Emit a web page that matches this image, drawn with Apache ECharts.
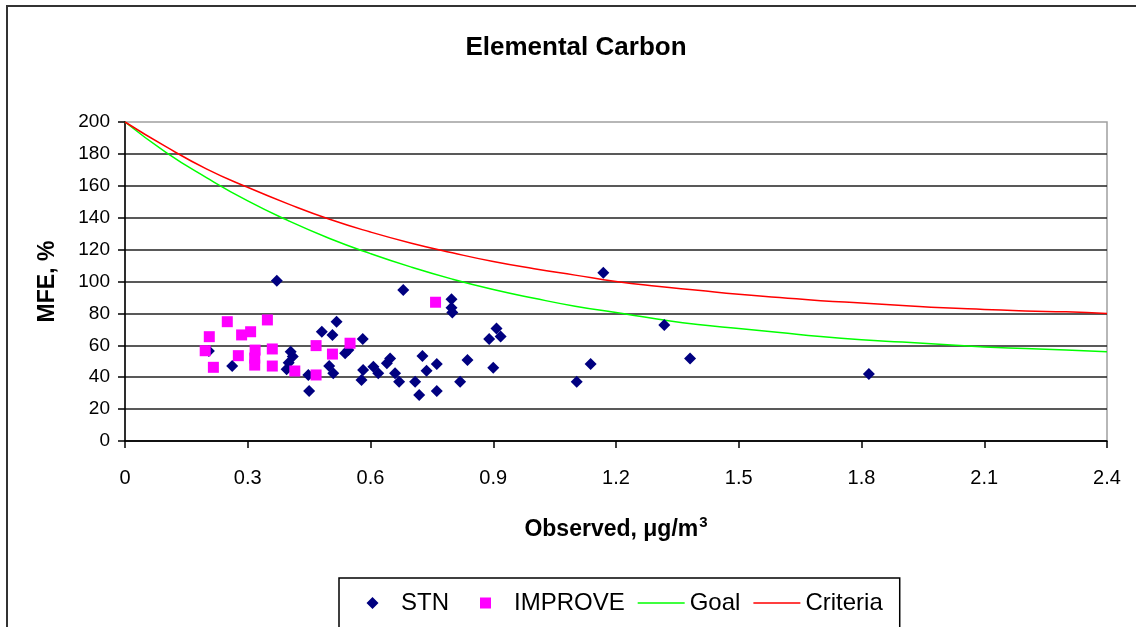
<!DOCTYPE html>
<html>
<head>
<meta charset="utf-8">
<script src="https://cdn.jsdelivr.net/npm/echarts@6/dist/echarts.min.js"></script>
<style>
html,body{margin:0;padding:0;background:#fff;}
#chart{width:1136px;height:627px;}
</style>
</head>
<body>
<div id="chart"></div>
<script>
// ---- data ----
var stnX = [0.371,0.262,0.205,0.405,0.41,0.40,0.395,0.448,0.45,0.481,0.517,0.507,0.538,0.546,0.499,0.509,0.581,0.582,0.578,0.607,0.619,0.64,0.648,0.66,0.67,0.68,0.798,0.798,0.80,0.908,0.89,0.918,0.727,0.737,0.762,0.709,0.719,0.762,0.837,0.819,0.90,1.104,1.169,1.318,1.381,1.138,1.818];
var stnY = [100.5,47.0,56.5,56,53,49,45,41.4,31.3,68.5,74.8,66.5,55,57,47,42.4,64,44.5,38.2,46.6,42.4,48.7,51.8,42.4,37.2,94.7,88.8,83.5,80.5,70.6,64,65.5,53.3,44,48.3,37.2,28.8,31.3,50.8,37.2,46,37.2,105.5,72.7,51.8,48.3,42];
var improveX = [0.196,0.206,0.216,0.25,0.285,0.307,0.277,0.318,0.317,0.317,0.348,0.36,0.36,0.415,0.467,0.467,0.507,0.55,0.759];
var improveY = [56.6,65.4,46.2,74.8,66.5,68.5,53.5,57,52,47.6,75.9,57.7,47,43.9,59.8,41.4,54.5,61.3,87];
var curveX = [0,0.1,0.2,0.3,0.4,0.5,0.6,0.7,0.8,0.9,1.0,1.1,1.2,1.3,1.4,1.5,1.6,1.7,1.8,1.9,2.0,2.1,2.2,2.3,2.4];
var goalY = [200,181,165,150.5,138,127,117.5,109,101.5,95,89.5,84.5,80.5,76.5,73,70.5,68,65.5,63.5,62,60.5,59,58,57,56];
var criteriaY = [200,184.5,170.5,159,148.5,139,131,124,118,112.5,108,104,100,97,94.5,92,90,88,86.5,85,83.5,82.5,81.5,81,80];
var xTickLabels = ['0','0.3','0.6','0.9','1.2','1.5','1.8','2.1','2.4'];
var yTickLabels = ['0','20','40','60','80','100','120','140','160','180','200'];
var seriesNames = ['STN','IMPROVE','Goal','Criteria'];
var titleText = 'Elemental Carbon';

function zip(a, b){ var r=[]; for(var i=0;i<a.length;i++) r.push([a[i], b[i]]); return r; }

var FONT = "'Liberation Sans', Arial, sans-serif";
// legend icons: padded to the full 47x12 item box with tiny corner anchors
var CORNERS = ' M0,0 L0.01,0 L0,0.01 Z M47,12 L46.99,12 L47,11.99 Z';
var LINE_ICON = 'path://M0,5.25 L47,5.25 L47,6.75 L0,6.75 Z' + CORNERS;
var DIAMOND_ICON = 'path://M23.5,0 L29.5,6 L23.5,12 L17.5,6 Z' + CORNERS;
var SQUARE_ICON = 'path://M18,0.5 L29,0.5 L29,11.5 L18,11.5 Z' + CORNERS;
var chart = echarts.init(document.getElementById('chart'), null, {renderer:'canvas'});
chart.setOption({
  animation:false,
  backgroundColor:'#fff',
  graphic:[{type:'rect', shape:{x:7,y:6,width:1160,height:660}, style:{fill:'none', stroke:'#333', lineWidth:2}, z:-1}],
  title:{text:titleText, left:571, top:30, textAlign:'center',
    textStyle:{fontFamily:FONT, fontWeight:'bold', fontSize:26, color:'#000'}},
  grid:{left:125, right:29, top:122, bottom:186, show:true, borderColor:'#a0a0a0', borderWidth:1.5, backgroundColor:'transparent'},
  xAxis:{type:'value', min:0, max:2.4, interval:0.3,
    name:'{a|Observed, μg/m}{b|3}', nameLocation:'middle', nameGap:74,
    nameTextStyle:{rich:{a:{fontFamily:FONT, fontWeight:'bold', fontSize:23, color:'#000'},
                         b:{fontFamily:FONT, fontWeight:'bold', fontSize:15, color:'#000', padding:[0,0,14,1]}}},
    axisLine:{show:true, onZero:false, lineStyle:{color:'#000', width:1.5}},
    axisTick:{show:true, inside:false, length:7, lineStyle:{color:'#000', width:1.5}},
    axisLabel:{margin:27, fontFamily:FONT, fontSize:20, color:'#000',
      formatter:function(v){ var i=Math.round(v/0.3); return xTickLabels[i]; }},
    splitLine:{show:false}},
  yAxis:{type:'value', min:0, max:200, interval:20,
    name:'MFE, %', nameLocation:'middle', nameRotate:90, nameGap:66,
    nameTextStyle:{fontFamily:FONT, fontWeight:'bold', fontSize:23, color:'#000'},
    axisLine:{show:true, onZero:false, lineStyle:{color:'#000', width:1.5}},
    axisTick:{show:true, inside:false, length:7, lineStyle:{color:'#000', width:1.5}},
    axisLabel:{margin:15, fontFamily:FONT, fontSize:19, color:'#000',
      formatter:function(v){ return yTickLabels[Math.round(v/20)]; }},
    splitLine:{show:true, showMaxLine:false, lineStyle:{color:'#222', width:1.5}}},
  legend:{left:339, top:578, orient:'horizontal', itemWidth:47, itemHeight:12, itemGap:13,
    symbolKeepAspect:false,
    padding:[13,17,30,10], borderColor:'#000', borderWidth:1.5,
    textStyle:{fontFamily:FONT, fontSize:24, color:'#000'},
    data:[{name:seriesNames[0], icon:DIAMOND_ICON},{name:seriesNames[1], icon:SQUARE_ICON},
          {name:seriesNames[2], icon:LINE_ICON},{name:seriesNames[3], icon:LINE_ICON}]},
  series:[
    {name:seriesNames[0], type:'scatter', symbol:'diamond', symbolSize:12, z:4,
      itemStyle:{color:'#000080', opacity:1}, data:zip(stnX, stnY)},
    {name:seriesNames[1], type:'scatter', symbol:'rect', symbolSize:11, z:5,
      itemStyle:{color:'#ff00ff', opacity:1}, data:zip(improveX, improveY)},
    {name:seriesNames[2], type:'line', symbol:'none', smooth:true, z:2,
      lineStyle:{color:'#00ff00', width:1.5}, itemStyle:{color:'#00ff00'}, data:zip(curveX, goalY)},
    {name:seriesNames[3], type:'line', symbol:'none', smooth:true, z:3,
      lineStyle:{color:'#ff0000', width:1.5}, itemStyle:{color:'#ff0000'}, data:zip(curveX, criteriaY)}
  ]
});
</script>
</body>
</html>
